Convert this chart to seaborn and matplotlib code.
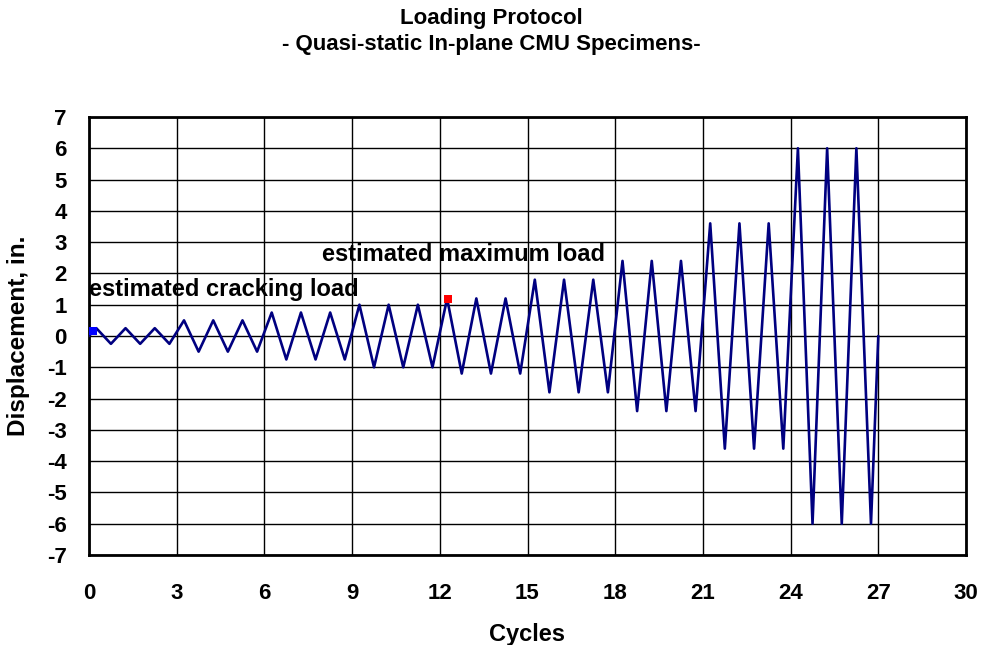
import numpy as np
import pandas as pd
import matplotlib
matplotlib.use("Agg")
import matplotlib.pyplot as plt
import seaborn as sns

# Protocol: amplitude per group of 3 cycles
cycles = [0, 0.25, 0.75, 1.25, 1.75, 2.25, 2.75, 3.25, 3.75, 4.25, 4.75, 5.25, 5.75,
          6.25, 6.75, 7.25, 7.75, 8.25, 8.75, 9.25, 9.75, 10.25, 10.75, 11.25, 11.75,
          12.25, 12.75, 13.25, 13.75, 14.25, 14.75, 15.25, 15.75, 16.25, 16.75, 17.25, 17.75,
          18.25, 18.75, 19.25, 19.75, 20.25, 20.75, 21.25, 21.75, 22.25, 22.75, 23.25, 23.75,
          24.25, 24.75, 25.25, 25.75, 26.25, 26.75, 27]
displacement = [0, 0.25, -0.25, 0.25, -0.25, 0.25, -0.25,
                0.5, -0.5, 0.5, -0.5, 0.5, -0.5,
                0.75, -0.75, 0.75, -0.75, 0.75, -0.75,
                1.0, -1.0, 1.0, -1.0, 1.0, -1.0,
                1.2, -1.2, 1.2, -1.2, 1.2, -1.2,
                1.8, -1.8, 1.8, -1.8, 1.8, -1.8,
                2.4, -2.4, 2.4, -2.4, 2.4, -2.4,
                3.6, -3.6, 3.6, -3.6, 3.6, -3.6,
                6.0, -6.0, 6.0, -6.0, 6.0, -6.0, 0]
crack_x, crack_y = [0.15], [0.15]
max_x, max_y = [12.28], [1.18]
x_ticks = [0, 3, 6, 9, 12, 15, 18, 21, 24, 27, 30]
y_ticks = list(range(-7, 8))

sns.set_style("white")
plt.rcParams['font.family'] = ['Liberation Sans', 'DejaVu Sans']
plt.rcParams['font.weight'] = 'bold'
plt.rcParams['text.color'] = 'black'
plt.rcParams['axes.labelcolor'] = 'black'
plt.rcParams['xtick.color'] = 'black'
plt.rcParams['ytick.color'] = 'black'

df = pd.DataFrame({"Cycles": cycles, "Displacement": displacement})

fig = plt.figure(figsize=(9.82, 6.45), dpi=100)
ax = fig.add_axes([89/982, 1 - 555/645, (966-89)/982, (555-117)/645])

sns.lineplot(data=df, x="Cycles", y="Displacement", sort=False, color="#000080",
             linewidth=1.9, ax=ax, zorder=3)
ax.scatter(crack_x, crack_y, marker="s", s=40, color="#0000ff", zorder=4, linewidths=0)
ax.scatter(max_x, max_y, marker="s", s=40, color="#ff0000", zorder=4, linewidths=0)

ax.set_xlim(0, 30)
ax.set_ylim(-7, 7)
ax.set_xticks(x_ticks)
ax.set_yticks(y_ticks)
ax.set_xticklabels([str(t) for t in x_ticks], fontsize=16, fontweight='bold')
ax.set_yticklabels([str(t) for t in y_ticks], fontsize=16, fontweight='bold')
ax.tick_params(axis='x', length=0, pad=20)
ax.tick_params(axis='y', length=0, pad=16)
ax.grid(True, color="black", linewidth=1.0)
ax.set_axisbelow(True)
for s in ax.spines.values():
    s.set_color("black")
    s.set_linewidth(2)

ax.set_xlabel("Cycles", fontsize=17, fontweight='bold', labelpad=14)
ax.set_ylabel("Displacement, in.", fontsize=17.5, fontweight='bold', labelpad=12)

ax.text(0.0, 1.5, "estimated cracking load", fontsize=17, fontweight='bold',
        va='center', ha='left', zorder=5)
ax.text(7.97, 2.6, "estimated maximum load", fontsize=17, fontweight='bold',
        va='center', ha='left', zorder=5)

fig.suptitle("Loading Protocol\n- Quasi-static In-plane CMU Specimens-", fontsize=16,
             fontweight='bold', y=0.987, x=0.5, va='top', linespacing=1.3)

fig.savefig("out.png", dpi=100)
